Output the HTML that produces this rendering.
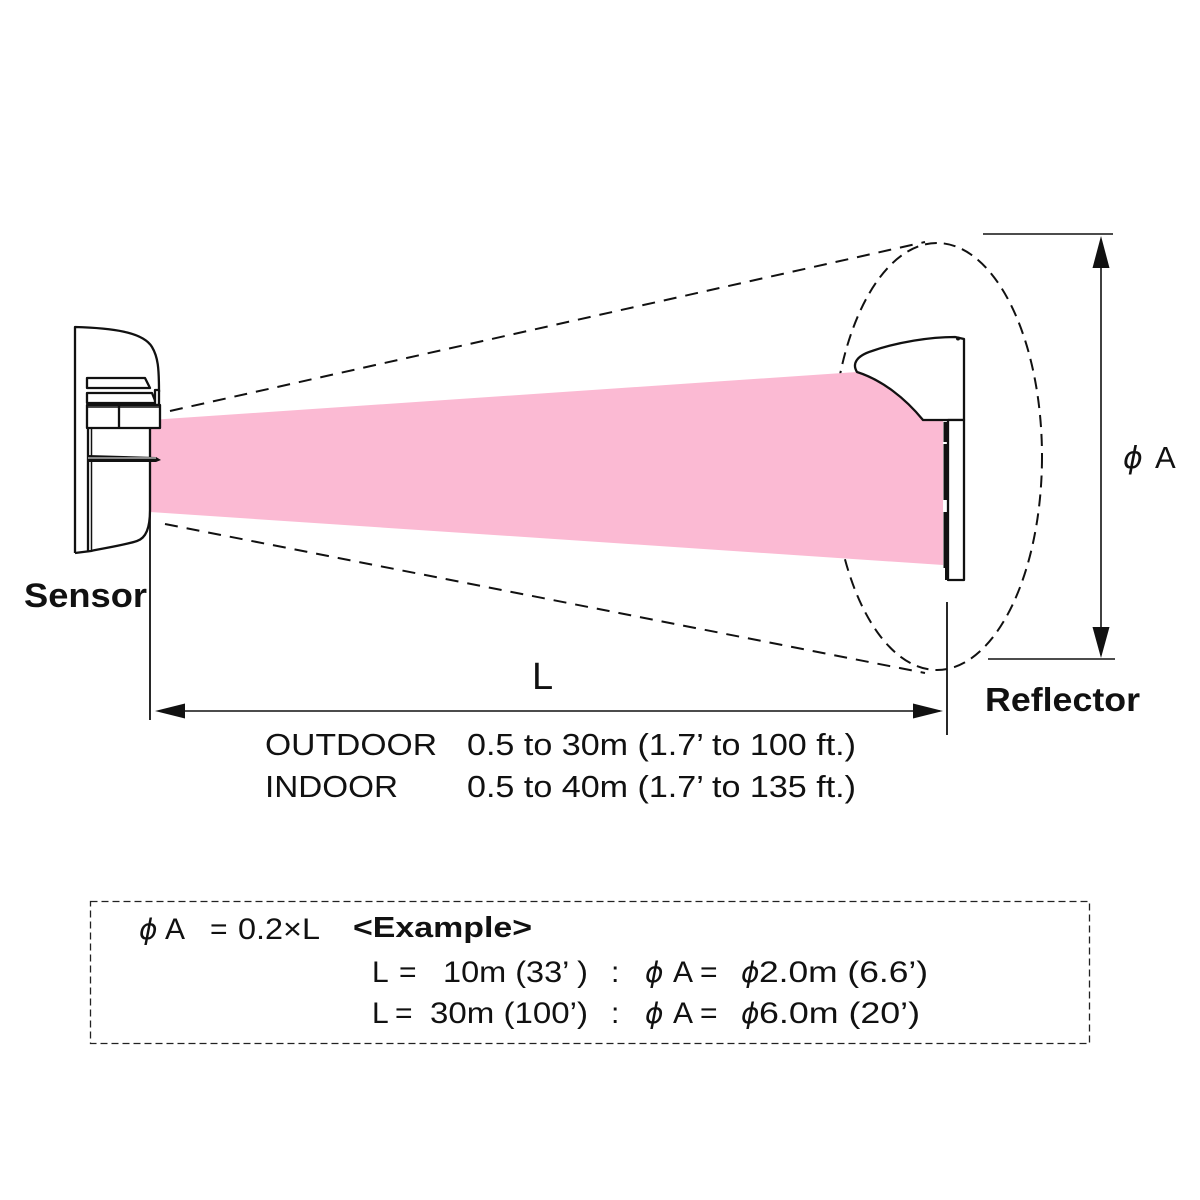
<!DOCTYPE html>
<html>
<head>
<meta charset="utf-8">
<style>
  html, body { margin:0; padding:0; background:#fff; }
  svg { display:block; }
  text { font-family: "Liberation Sans", "DejaVu Sans", sans-serif; fill:#111; }
  .it { font-style: italic; font-family: "DejaVu Sans", "Liberation Sans", sans-serif; }
  .b { font-weight: bold; }
</style>
</head>
<body>
<svg width="1200" height="1200" viewBox="0 0 1200 1200" xmlns="http://www.w3.org/2000/svg">
  <rect width="1200" height="1200" fill="#fff"/>

  <!-- coverage ellipse -->
  <ellipse cx="937" cy="456.5" rx="105" ry="213.5" fill="none" stroke="#111" stroke-width="2" stroke-dasharray="12 7"/>

  <!-- cone dashed lines -->
  <line x1="170" y1="411" x2="925" y2="242" stroke="#111" stroke-width="2" stroke-dasharray="13 9"/>
  <line x1="165" y1="524" x2="925" y2="673" stroke="#111" stroke-width="2" stroke-dasharray="13 9"/>

  <!-- pink beam -->
  <polygon points="150,420 857,372 935,372 943,420 943,565 150,512" fill="#fbbad3"/>

  <!-- SENSOR -->
  <g stroke="#111" stroke-width="2.3" fill="#fff" stroke-linejoin="round">
    <path d="M75,553 L75,327 C112,328 143,332 152,347 C158,357 159,368 159,392" fill="none"/>
    <polygon points="87,378 145,378 150,388 87,388"/>
    <polygon points="87,393 152,393 156,403 87,403"/>
    <rect x="155" y="390" width="4" height="15"/>
    <rect x="87" y="405" width="73" height="23"/>
    <line x1="119" y1="405" x2="119" y2="428"/>
    <line x1="87" y1="407" x2="160" y2="407" stroke-width="1.5"/>
    <line x1="88" y1="428" x2="88" y2="552" stroke-width="2.3"/>
    <line x1="91.5" y1="428" x2="91.5" y2="551" stroke-width="1.5"/>
    <path d="M150,428 L150,510 C150,528 146,538 137,541 C125,545 105,548 91,551 L75,553" fill="none"/>
  </g>
  <polygon points="88,455 156,457 161,460 156,462 88,462" fill="#111"/>
  <line x1="88" y1="458" x2="156" y2="458" stroke="#fff" stroke-width="1"/>

  <!-- REFLECTOR -->
  <g stroke="#111" stroke-width="2.3" stroke-linejoin="round">
    <path d="M857,372 C852,364 856,356 872,351 C898,342 930,337 955,337 L964,339 L964,420 L923,420 C905,398 882,380 857,372 Z" fill="#fff"/>
    <rect x="948" y="420" width="16" height="160" fill="#fff"/>
  </g>
  <circle cx="958" cy="338.5" r="2" fill="#111"/>
  <g fill="#111">
    <rect x="943.5" y="422" width="4" height="20"/>
    <rect x="943.5" y="444" width="4" height="56"/>
    <rect x="943.5" y="512" width="4" height="56"/>
    <rect x="945" y="568" width="3" height="12"/>
  </g>

  <!-- extension lines -->
  <line x1="150" y1="510" x2="150" y2="720" stroke="#111" stroke-width="1.8"/>
  <line x1="947" y1="602" x2="947" y2="735" stroke="#111" stroke-width="1.8"/>

  <!-- L dimension -->
  <line x1="160" y1="711" x2="940" y2="711" stroke="#111" stroke-width="1.6"/>
  <polygon points="155,711 185,703.5 185,718.5" fill="#111"/>
  <polygon points="943,711 913,703.5 913,718.5" fill="#111"/>

  <!-- phi A dimension -->
  <line x1="983" y1="234" x2="1113" y2="234" stroke="#111" stroke-width="1.6"/>
  <line x1="988" y1="659" x2="1115" y2="659" stroke="#111" stroke-width="1.6"/>
  <line x1="1101" y1="240" x2="1101" y2="655" stroke="#111" stroke-width="1.6"/>
  <polygon points="1101,236 1092.5,268 1109.5,268" fill="#111"/>
  <polygon points="1101,658 1092.5,627 1109.5,627" fill="#111"/>

  <!-- labels -->
  <text x="24" y="607" font-size="34" class="b" textLength="123" lengthAdjust="spacingAndGlyphs">Sensor</text>
  <text x="985" y="711" font-size="33" class="b" textLength="155" lengthAdjust="spacingAndGlyphs">Reflector</text>
  <text x="532" y="689" font-size="38">L</text>
  <text x="1123" y="468" font-size="30" class="it">ϕ</text>
  <text x="1155" y="468" font-size="31">A</text>

  <text x="265" y="755" font-size="31" textLength="172" lengthAdjust="spacingAndGlyphs">OUTDOOR</text>
  <text x="467" y="755" font-size="31" textLength="389" lengthAdjust="spacingAndGlyphs">0.5 to 30m (1.7’ to 100 ft.)</text>
  <text x="265" y="797" font-size="31" textLength="133" lengthAdjust="spacingAndGlyphs">INDOOR</text>
  <text x="467" y="797" font-size="31" textLength="389" lengthAdjust="spacingAndGlyphs">0.5 to 40m (1.7’ to 135 ft.)</text>

  <!-- example box -->
  <rect x="90.5" y="901.5" width="999" height="142" fill="none" stroke="#222" stroke-width="1.3" stroke-dasharray="7 4"/>

  <text x="139" y="939" font-size="28" class="it">ϕ</text>
  <text x="165" y="939" font-size="30">A</text>
  <text x="210" y="939" font-size="30">=</text>
  <text x="238" y="939" font-size="30" textLength="82" lengthAdjust="spacingAndGlyphs">0.2×L</text>
  <text x="353" y="937" font-size="29" class="b" textLength="179" lengthAdjust="spacingAndGlyphs">&lt;Example&gt;</text>

  <text x="372" y="982" font-size="30">L</text>
  <text x="399" y="982" font-size="30">=</text>
  <text x="443" y="982" font-size="30" textLength="145" lengthAdjust="spacingAndGlyphs">10m (33’ )</text>
  <text x="611" y="982" font-size="30">:</text>
  <text x="645" y="982" font-size="28" class="it">ϕ</text>
  <text x="673" y="982" font-size="30">A</text>
  <text x="700" y="982" font-size="30">=</text>
  <text x="741" y="982" font-size="28" class="it">ϕ</text>
  <text x="759" y="982" font-size="30" textLength="169" lengthAdjust="spacingAndGlyphs">2.0m (6.6’)</text>

  <text x="372" y="1023" font-size="30">L</text>
  <text x="395" y="1023" font-size="30">=</text>
  <text x="430" y="1023" font-size="30" textLength="158" lengthAdjust="spacingAndGlyphs">30m (100’)</text>
  <text x="611" y="1023" font-size="30">:</text>
  <text x="645" y="1023" font-size="28" class="it">ϕ</text>
  <text x="673" y="1023" font-size="30">A</text>
  <text x="700" y="1023" font-size="30">=</text>
  <text x="741" y="1023" font-size="28" class="it">ϕ</text>
  <text x="759" y="1023" font-size="30" textLength="161" lengthAdjust="spacingAndGlyphs">6.0m (20’)</text>
</svg>
</body>
</html>
